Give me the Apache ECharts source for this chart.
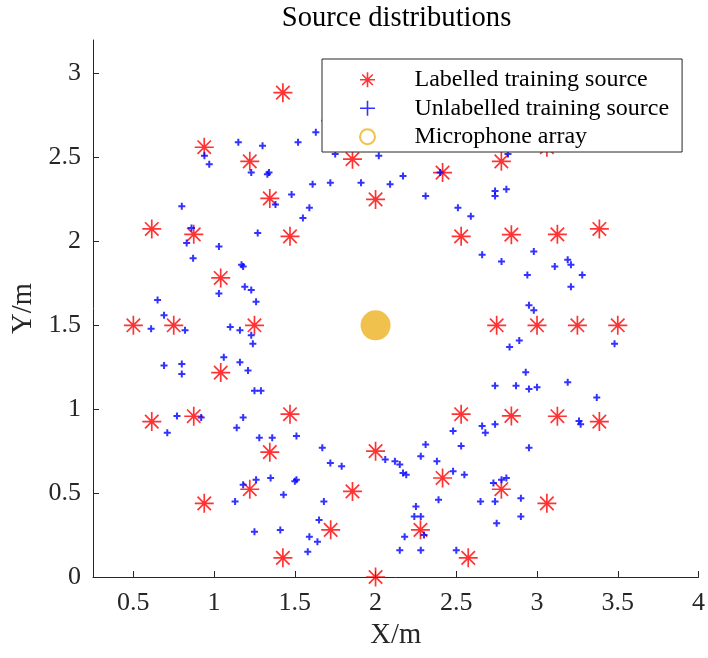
<!DOCTYPE html>
<html>
<head>
<meta charset="utf-8">
<script src="https://cdn.jsdelivr.net/npm/echarts@6/dist/echarts.min.js"></script>
<style>html,body{margin:0;padding:0;background:#fff}#c{width:708px;height:658px}</style>
</head>
<body>
<div id="c"></div>
<script>
const titleText = 'Source distributions';
const seriesNames = ['Labelled training source', 'Unlabelled training source', 'Microphone array'];
const xTickValues = [0.5, 1, 1.5, 2, 2.5, 3, 3.5, 4];
const xTickLabels = ['0.5', '1', '1.5', '2', '2.5', '3', '3.5', '4'];
const yTickValues = [0, 0.5, 1, 1.5, 2, 2.5, 3];
const yTickLabels = ['0', '0.5', '1', '1.5', '2', '2.5', '3'];

const labelledX = [3.5, 3.386, 3.061, 2.574, 2, 1.426, 0.939, 0.614, 0.5, 0.614, 0.939, 1.426, 2, 2.574, 3.061, 3.386,
  3.25, 3.126, 2.779, 2.278, 1.722, 1.221, 0.874, 0.75, 0.874, 1.221, 1.722, 2.278, 2.779, 3.126,
  3, 2.841, 2.415, 1.857, 1.345, 1.041, 1.041, 1.345, 1.857, 2.415, 2.841,
  2.75, 2.53, 2, 1.47, 1.25, 1.47, 2, 2.53];
const labelledY = [1.5, 2.074, 2.561, 2.886, 3, 2.886, 2.561, 2.074, 1.5, 0.926, 0.439, 0.114, 0, 0.114, 0.439, 0.926,
  1.5, 2.042, 2.477, 2.719, 2.719, 2.477, 2.042, 1.5, 0.958, 0.523, 0.281, 0.281, 0.523, 0.958,
  1.5, 2.04, 2.41, 2.49, 2.256, 1.782, 1.218, 0.744, 0.51, 0.59, 0.96,
  1.5, 2.03, 2.25, 2.03, 1.5, 0.97, 0.75, 0.97];

const unlabelledX = [0.94, 0.97, 1.15, 1.30, 1.52, 1.23, 1.33, 1.34, 1.38, 1.48, 0.80, 1.63, 1.75, 2.02, 2.40, 2.17, 2.09, 1.91, 1.72, 1.61,
  1.59, 1.55, 2.31, 2.51, 2.59, 2.74, 2.74, 2.81, 2.82, 0.86, 0.83, 1.27, 1.03, 0.87, 1.17, 1.18, 1.03, 1.19, 1.23, 1.26,
  0.65, 0.69, 0.61, 0.82, 1.10, 1.16, 1.23, 1.24, 1.06, 1.16, 1.21, 0.69, 0.80, 0.80, 1.25, 1.29, 2.66, 2.74, 2.98, 2.78,
  3.11, 3.19, 3.21, 2.94, 3.28, 3.21, 2.95, 2.98, 3.48, 2.89, 2.83, 2.93, 2.87, 2.95, 3.00, 3.19, 0.77, 0.71, 0.92, 1.18,
  1.14, 1.28, 1.36, 1.51, 1.35, 1.26, 1.18, 1.50, 1.51, 1.43, 1.13, 1.25, 1.41, 1.67, 1.72, 1.79, 2.06, 2.12, 2.15, 2.17,
  2.19, 2.31, 2.28, 2.38, 2.48, 2.53, 2.66, 2.68, 2.74, 2.48, 2.55, 1.68, 1.65, 1.59, 1.64, 1.58, 2.25, 2.24, 2.28, 2.30,
  2.18, 2.15, 2.28, 2.39, 2.50, 2.65, 2.74, 2.73, 2.75, 3.37, 3.26, 3.27, 2.95, 2.78, 2.81, 2.90, 2.90];
const unlabelledY = [2.51, 2.46, 2.59, 2.57, 2.59, 2.41, 2.40, 2.41, 2.22, 2.28, 2.21, 2.65, 2.52, 2.51, 2.41, 2.39, 2.34, 2.35, 2.35, 2.34,
  2.20, 2.14, 2.27, 2.20, 2.15, 2.30, 2.27, 2.31, 2.52, 2.08, 1.99, 2.05, 1.97, 1.90, 1.86, 1.85, 1.69, 1.73, 1.71, 1.64,
  1.65, 1.56, 1.48, 1.47, 1.49, 1.47, 1.44, 1.39, 1.31, 1.28, 1.23, 1.26, 1.27, 1.21, 1.11, 1.11, 1.92, 1.14, 1.94, 1.88,
  1.85, 1.89, 1.86, 1.80, 1.80, 1.73, 1.62, 1.59, 1.39, 1.41, 1.37, 1.22, 1.14, 1.12, 1.13, 1.16, 0.96, 0.86, 0.95, 0.95,
  0.89, 0.83, 0.83, 0.84, 0.59, 0.58, 0.55, 0.57, 0.58, 0.49, 0.45, 0.27, 0.28, 0.77, 0.68, 0.66, 0.70, 0.69, 0.67, 0.62,
  0.61, 0.79, 0.72, 0.69, 0.87, 0.78, 0.90, 0.86, 0.91, 0.63, 0.61, 0.45, 0.34, 0.24, 0.21, 0.15, 0.42, 0.36, 0.36, 0.25,
  0.24, 0.16, 0.16, 0.46, 0.16, 0.45, 0.45, 0.56, 0.32, 1.07, 0.93, 0.91, 0.77, 0.58, 0.59, 0.47, 0.36];

const micX = [2];
const micY = [1.5];

const zip = (xs, ys) => xs.map((x, i) => [x, ys[i]]);

const FONT = 'Liberation Serif';
const AXIS_COLOR = '#262626';
const STAR = 'path://M0,-9.5L0,9.5M-9.5,0L9.5,0M-6.72,-6.72L6.72,6.72M-6.72,6.72L6.72,-6.72';
const STAR_LEG = 'path://M0,-7L0,7M-7,0L7,0M-4.95,-4.95L4.95,4.95M-4.95,4.95L4.95,-4.95';
const PLUS = 'path://M-3.5,0L3.5,0M0,-3.5L0,3.5';
const PLUS_LEG = 'path://M-7.5,0L7.5,0M0,-7.5L0,7.5';

const chart = echarts.init(document.getElementById('c'), null, {renderer: 'canvas'});
chart.setOption({
  animation: false,
  backgroundColor: '#fff',
  title: {
    text: titleText,
    left: 396.5,
    textAlign: 'center',
    top: 4,
    padding: 0,
    textStyle: {fontFamily: FONT, fontSize: 28.6, fontWeight: 'normal', color: '#000'}
  },
  grid: {left: 93, right: 8, top: 40, bottom: 81, containLabel: false},
  legend: {
    orient: 'vertical',
    left: 322,
    top: 59,
    itemWidth: 84,
    itemHeight: 15,
    itemGap: 0,
    padding: [6.5, 13, 1, 37],
    backgroundColor: '#fff',
    borderColor: AXIS_COLOR,
    borderWidth: 1,
    borderRadius: 0,
    selectedMode: false,
    textStyle: {fontFamily: FONT, fontSize: 24, color: '#000', lineHeight: 28.5},
    data: [
      {name: seriesNames[0], icon: STAR_LEG, itemStyle: {color: '#FF0000', borderColor: '#FF0000', borderWidth: 1.6}},
      {name: seriesNames[1], icon: PLUS_LEG, itemStyle: {color: '#0000FF', borderColor: '#0000FF', borderWidth: 1.6}},
      {name: seriesNames[2], icon: 'circle', itemStyle: {color: 'rgba(255,255,255,0)', borderColor: '#EDB120', borderWidth: 2}}
    ]
  },
  xAxis: {
    type: 'value',
    min: 0.25,
    max: 4,
    name: 'X/m',
    nameLocation: 'middle',
    nameGap: 41,
    nameTextStyle: {fontFamily: FONT, fontSize: 28.6, color: AXIS_COLOR},
    axisLine: {show: true, onZero: false, lineStyle: {color: AXIS_COLOR, width: 1}},
    axisTick: {show: true, inside: true, length: 6, customValues: xTickValues, lineStyle: {color: AXIS_COLOR}},
    axisLabel: {
      customValues: xTickValues,
      margin: 13,
      fontFamily: FONT, fontSize: 26, color: AXIS_COLOR,
      formatter: v => xTickLabels[xTickValues.indexOf(v)] ?? String(v)
    },
    splitLine: {show: false}
  },
  yAxis: {
    type: 'value',
    min: 0,
    max: 3.2,
    name: 'Y/m',
    nameLocation: 'middle',
    nameGap: 50,
    nameTextStyle: {fontFamily: FONT, fontSize: 28.6, color: AXIS_COLOR},
    axisLine: {show: true, onZero: false, lineStyle: {color: AXIS_COLOR, width: 1}},
    axisTick: {show: true, inside: true, length: 6, customValues: yTickValues, lineStyle: {color: AXIS_COLOR}},
    axisLabel: {
      customValues: yTickValues,
      margin: 12,
      fontFamily: FONT, fontSize: 26, color: AXIS_COLOR,
      formatter: v => yTickLabels[yTickValues.indexOf(v)] ?? String(v)
    },
    splitLine: {show: false}
  },
  series: [
    {
      name: seriesNames[0],
      type: 'scatter',
      data: zip(labelledX, labelledY),
      symbol: STAR,
      symbolSize: 19,
      itemStyle: {color: '#FF0000', borderColor: '#FF0000', borderWidth: 1.7},
      z: 3
    },
    {
      name: seriesNames[1],
      type: 'scatter',
      data: zip(unlabelledX, unlabelledY),
      symbol: PLUS,
      symbolSize: 7,
      itemStyle: {color: '#0000FF', borderColor: '#0000FF', borderWidth: 2},
      z: 3
    },
    {
      name: seriesNames[2],
      type: 'scatter',
      data: zip(micX, micY),
      symbol: 'circle',
      symbolSize: 30,
      itemStyle: {color: '#EDB120'},
      z: 3
    }
  ]
});
</script>
</body>
</html>
